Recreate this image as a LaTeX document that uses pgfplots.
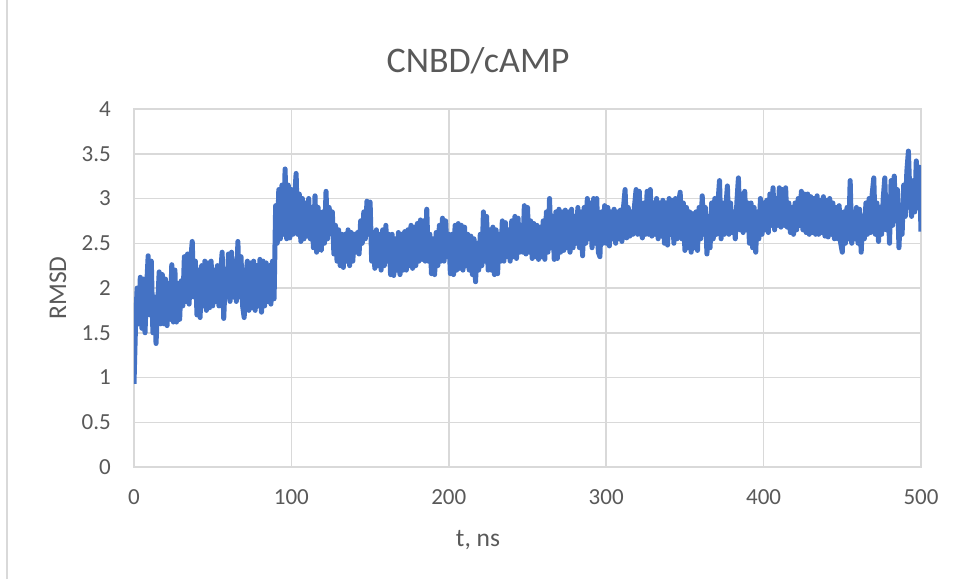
\documentclass[border=0pt]{standalone}
\usepackage{pgfplots}
\pgfplotsset{compat=1.18}
\usepackage{fontspec}
\setmainfont{Carlito}
\definecolor{txt}{RGB}{89,89,89}
\definecolor{grd}{RGB}{217,217,217}
\definecolor{ser}{RGB}{68,114,196}
\pgfplotstableread{
t y
0 0.93
1 1.6
2 2.0
3 1.6
4 2.12
5 1.55
6 2.1
7 1.5
8 2.0
9 2.36
10 1.7
11 2.3
12 1.5
13 1.9
14 1.38
15 1.8
16 2.18
17 1.6
18 2.15
19 1.6
20 2.1
21 1.58
22 2.05
23 1.65
24 2.26
25 1.62
26 2.2
27 1.62
28 2.05
29 1.65
30 2.08
31 1.8
32 2.35
33 1.85
34 2.38
35 1.82
36 2.3
37 2.52
38 1.9
39 2.3
40 1.7
41 2.2
42 1.67
43 2.25
44 1.8
45 2.3
46 1.75
47 2.28
48 1.78
49 2.3
50 1.8
51 2.2
52 1.85
53 2.25
54 1.8
55 2.15
56 2.4
57 1.66
58 2.1
59 1.9
60 2.38
61 1.85
62 2.4
63 1.9
64 2.3
65 1.85
66 2.52
67 1.9
68 2.35
69 1.8
70 1.67
71 2.1
72 2.3
73 1.75
74 2.28
75 1.78
76 2.3
77 1.75
78 2.25
79 1.8
80 2.32
81 1.73
82 2.3
83 1.8
84 2.28
85 1.85
86 2.25
87 1.82
88 2.3
89 1.88
90 2.92
91 2.5
92 3.1
93 2.55
94 3.15
95 2.6
96 3.33
97 2.55
98 3.15
99 2.56
100 3.1
101 2.6
102 3.0
103 3.28
104 2.6
105 3.05
106 2.52
107 3.0
108 2.55
109 2.95
110 2.58
111 3.0
112 2.55
113 2.9
114 2.45
115 3.03
116 2.4
117 2.9
118 2.45
119 2.42
120 2.85
121 2.5
122 3.08
123 2.55
124 2.9
125 2.65
126 2.85
127 2.38
128 2.7
129 2.3
130 2.65
131 2.25
132 2.6
133 2.23
134 2.6
135 2.3
136 2.65
137 2.25
138 2.62
139 2.3
140 2.6
141 2.4
142 2.62
143 2.38
144 2.75
145 2.5
146 2.85
147 2.55
148 2.97
149 2.6
150 2.96
151 2.3
152 2.62
153 2.22
154 2.65
155 2.25
156 2.6
157 2.2
158 2.65
159 2.25
160 2.7
161 2.3
162 2.6
163 2.15
164 2.6
165 2.14
166 2.55
167 2.2
168 2.62
169 2.15
170 2.6
171 2.2
172 2.63
173 2.2
174 2.65
175 2.25
176 2.7
177 2.22
178 2.68
179 2.25
180 2.72
181 2.3
182 2.76
183 2.32
184 2.75
185 2.3
186 2.88
187 2.3
188 2.6
189 2.16
190 2.55
191 2.15
192 2.62
193 2.25
194 2.7
195 2.3
196 2.78
197 2.3
198 2.75
199 2.35
200 2.6
201 2.16
202 2.6
203 2.15
204 2.7
205 2.2
206 2.72
207 2.22
208 2.7
209 2.2
210 2.68
211 2.25
212 2.6
213 2.2
214 2.58
215 2.15
216 2.55
217 2.07
218 2.5
219 2.2
220 2.6
221 2.25
222 2.85
223 2.3
224 2.8
225 2.2
226 2.65
227 2.2
228 2.68
229 2.15
230 2.65
231 2.16
232 2.6
233 2.3
234 2.75
235 2.3
236 2.73
237 2.35
238 2.65
239 2.3
240 2.75
241 2.35
242 2.8
243 2.33
244 2.78
245 2.4
246 2.7
247 2.4
248 2.92
249 2.38
250 2.9
251 2.4
252 2.75
253 2.33
254 2.72
255 2.35
256 2.7
257 2.32
258 2.68
259 2.35
260 2.75
261 2.32
262 2.85
263 2.4
264 3.0
265 2.45
266 2.8
267 2.32
268 2.85
269 2.33
270 2.88
271 2.4
272 2.85
273 2.42
274 2.87
275 2.45
276 2.85
277 2.4
278 2.88
279 2.45
280 2.8
281 2.5
282 2.9
283 2.45
284 2.85
285 2.36
286 2.9
287 2.5
288 3.0
289 2.55
290 2.95
291 2.45
292 3.0
293 2.5
294 3.0
295 2.4
296 2.35
297 2.85
298 2.5
299 2.92
300 2.5
301 2.9
302 2.47
303 2.85
304 2.55
305 2.88
306 2.5
307 2.85
308 2.55
309 2.87
310 2.52
311 2.9
312 3.1
313 2.56
314 2.9
315 2.58
316 2.85
317 2.6
318 2.92
319 3.1
320 2.6
321 3.08
322 2.65
323 2.56
324 2.95
325 2.6
326 3.08
327 2.6
328 3.1
329 2.58
330 2.95
331 2.6
332 3.0
333 2.55
334 2.95
335 2.58
336 2.98
337 2.5
338 2.95
339 2.48
340 3.0
341 2.6
342 2.98
343 2.5
344 3.0
345 2.55
346 2.95
347 3.07
348 2.55
349 2.95
350 2.42
351 2.9
352 2.45
353 2.85
354 2.4
355 2.83
356 2.45
357 2.85
358 2.42
359 2.9
360 2.55
361 3.03
362 2.6
363 2.9
364 2.38
365 2.8
366 2.45
367 2.95
368 2.55
369 3.0
370 2.6
371 2.95
372 3.2
373 2.55
374 2.95
375 2.6
376 2.9
377 3.14
378 2.6
379 2.95
380 2.62
381 2.85
382 2.55
383 2.95
384 3.23
385 2.65
386 3.05
387 2.62
388 3.08
389 2.65
390 2.95
391 2.5
392 2.95
393 2.45
394 2.9
395 2.4
396 2.85
397 2.55
398 3.0
399 2.6
400 2.95
401 2.65
402 2.98
403 2.62
404 3.05
405 2.7
406 3.12
407 2.65
408 3.0
409 2.7
410 3.12
411 2.68
412 3.1
413 2.7
414 3.12
415 2.68
416 2.95
417 2.62
418 2.9
419 2.6
420 2.95
421 2.65
422 3.0
423 2.7
424 3.08
425 2.65
426 3.05
427 2.62
428 3.05
429 2.6
430 3.02
431 2.62
432 3.0
433 2.6
434 3.03
435 2.6
436 2.98
437 2.62
438 3.02
439 2.58
440 2.98
441 2.57
442 3.0
443 2.6
444 2.95
445 2.55
446 2.9
447 2.55
448 2.92
449 2.5
450 2.4
451 2.85
452 2.5
453 2.9
454 2.55
455 3.2
456 2.5
457 2.85
458 2.55
459 2.9
460 2.5
461 2.88
462 2.4
463 2.8
464 2.55
465 2.95
466 2.6
467 3.0
468 2.62
469 3.05
470 3.23
471 2.6
472 2.95
473 2.52
474 2.9
475 2.6
476 3.0
477 3.23
478 2.65
479 3.0
480 2.5
481 3.2
482 2.7
483 3.25
484 2.75
485 3.1
486 2.45
487 2.9
488 2.6
489 3.15
490 2.8
491 3.3
492 3.53
493 3.0
494 2.8
495 3.2
496 2.85
497 3.42
498 2.9
499 3.35
500 2.63
}\rmsd
\begin{document}
\begin{tikzpicture}
\path[use as bounding box] (-134pt,-112pt) rectangle (822pt,467pt);
\draw[grd, line width=1.5pt] (-127pt,-112pt) -- (-127pt,467pt);
\begin{axis}[
  scale only axis, width=787pt, height=358pt,
  at={(0pt,0pt)}, anchor=south west,
  xmin=0, xmax=500, ymin=0, ymax=4,
  xtick={0,100,200,300,400,500},
  ytick={0,0.5,1,1.5,2,2.5,3,3.5,4},
  yticklabels={0,0.5,1,1.5,2,2.5,3,3.5,4},
  xticklabels={0,100,200,300,400,500},
  grid=major,
  major grid style={draw=grd, line width=1.5pt},
  axis line style={draw=grd, line width=1.5pt},
  major tick length=0pt,
  tick style={draw=none},
  ticklabel style={font=\fontsize{23}{23}\selectfont, text=txt},
  xticklabel style={inner sep=0pt, anchor=north, yshift=-22pt},
  yticklabel style={inner sep=0pt, anchor=east, xshift=-23pt},
  /pgf/number format/assume math mode=true,
]
\addplot[ser, line width=5pt, line join=round, no markers] table[x=t, y=y] {\rmsd};
\end{axis}
\node[text=txt, font=\fontsize{25.5}{25.5}\selectfont] at (344pt,-73pt) {t, ns};
\node[text=txt, font=\fontsize{25.5}{25.5}\selectfont, rotate=90] at (-76pt,179pt) {RMSD};
\node[text=txt, font=\fontsize{36}{36}\selectfont] at (344pt,406pt) {CNBD/cAMP};
\end{tikzpicture}
\end{document}
